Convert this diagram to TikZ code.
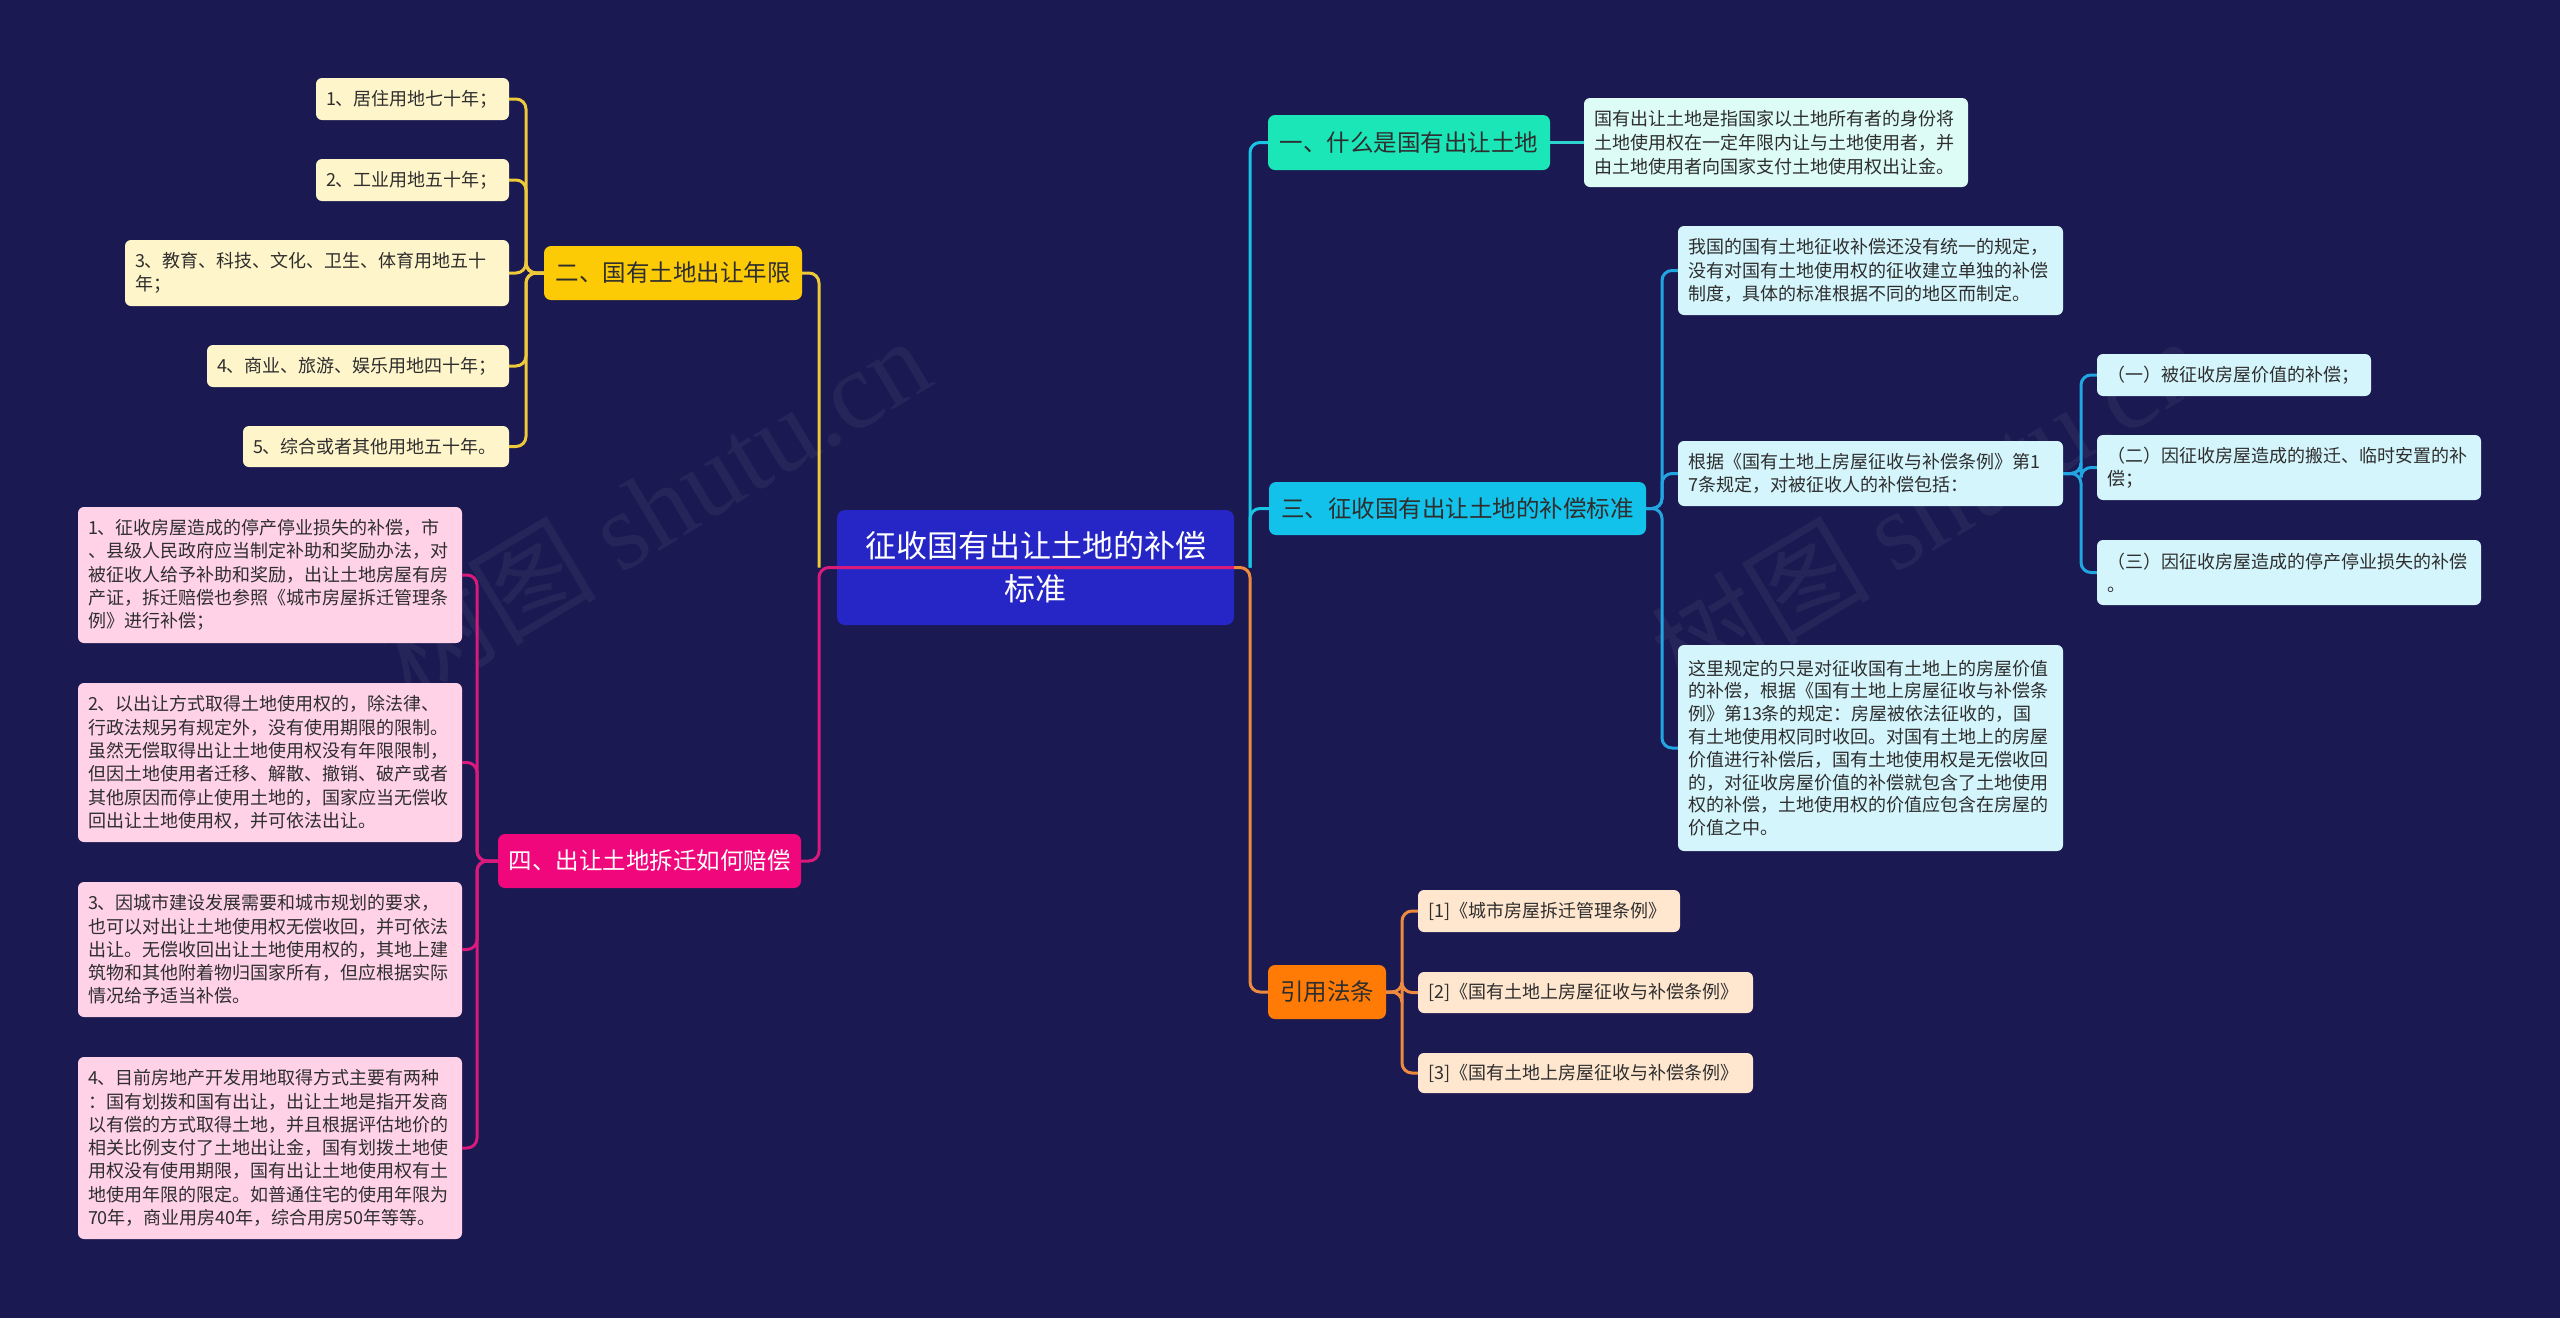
\documentclass[tikz,border=0pt]{standalone}
\usepackage{fontspec}
\setmainfont{Noto Sans CJK SC}
\newfontfamily\wmserif{Liberation Serif}
\definecolor{bg}{HTML}{1A1951}
\definecolor{cmain}{HTML}{2626C6}
\definecolor{cgold}{HTML}{FDCB06}
\definecolor{cyleaf}{HTML}{FFF5CA}
\definecolor{cyline}{HTML}{EEC93A}
\definecolor{cpink}{HTML}{F0077C}
\definecolor{cpleaf}{HTML}{FFD2E8}
\definecolor{cpline}{HTML}{D91A7C}
\definecolor{cteal}{HTML}{1BE6B8}
\definecolor{ctleaf}{HTML}{DDFCF5}
\definecolor{ctline}{HTML}{2ED3D0}
\definecolor{ccyan}{HTML}{12C2EA}
\definecolor{ccleaf}{HTML}{D4F5FC}
\definecolor{ccline}{HTML}{22A6E2}
\definecolor{corange}{HTML}{FF7B06}
\definecolor{coleaf}{HTML}{FFE6CF}
\definecolor{coline}{HTML}{EE8A3E}
\definecolor{ctxt}{HTML}{2E2E2E}
\tikzset{
  leaf/.style={rounded corners=6pt, inner xsep=10pt, inner ysep=0pt, align=left,
    font=\fontsize{18}{23.3}\selectfont, text=ctxt},
  lw/.style={minimum width=#1, text width=#1-20pt},
  branch/.style={rounded corners=7pt, inner xsep=8pt, inner ysep=0pt,
    font=\fontsize{23.5}{28}\selectfont, text=ctxt},
  conn/.style={line width=3pt, rounded corners=10pt},
  wmark/.style={text=white, opacity=0.055, rotate=31, font=\fontsize{110}{120}\selectfont}
}
\begin{document}
\begin{tikzpicture}[x=1pt,y=-1pt]
\fill[bg] (0,0) rectangle (2560,1318);
\useasboundingbox (0,0) rectangle (2560,1318);
% watermarks
\node[wmark] (wm1) at (653,506) {树图 {\wmserif shutu.cn}};
\node[wmark] (wm2) at (1927,506) {树图 {\wmserif shutu.cn}};

% central node
\node[rounded corners=8pt, fill=cmain, text=white, align=center, minimum width=397pt, minimum height=115pt,
  font=\fontsize{31}{43}\selectfont] (center) at (1035.5,567.5) {征收国有出让土地的补偿\\标准};

% left top branch
\node[branch, fill=cgold, minimum width=258pt, minimum height=54pt] (er) at (673,273) {二、国有土地出让年限};
\node[leaf, fill=cyleaf, lw=193pt, minimum height=42pt] (y1) at (412.5,99) {1、居住用地七十年；};
\node[leaf, fill=cyleaf, lw=193pt, minimum height=42pt] (y2) at (412.5,180) {2、工业用地五十年；};
\node[leaf, fill=cyleaf, lw=384pt, minimum height=66pt] (y3) at (317,273) {3、教育、科技、文化、卫生、体育用地五十\\年；};
\node[leaf, fill=cyleaf, lw=302pt, minimum height=42pt] (y4) at (358,366) {4、商业、旅游、娱乐用地四十年；};
\node[leaf, fill=cyleaf, lw=266pt, minimum height=41pt] (y5) at (376,446.5) {5、综合或者其他用地五十年。};

% left bottom branch
\node[branch, fill=cpink, text=white, minimum width=303pt, minimum height=54pt] (si) at (649.5,861) {四、出让土地拆迁如何赔偿};
\node[leaf, fill=cpleaf, lw=384pt, minimum height=136pt] (p1) at (270,575) {1、征收房屋造成的停产停业损失的补偿，市\\、县级人民政府应当制定补助和奖励办法，对\\被征收人给予补助和奖励，出让土地房屋有房\\产证，拆迁赔偿也参照《城市房屋拆迁管理条\\例》进行补偿；};
\node[leaf, fill=cpleaf, lw=384pt, minimum height=159pt] (p2) at (270,762.5) {2、以出让方式取得土地使用权的，除法律、\\行政法规另有规定外，没有使用期限的限制。\\虽然无偿取得出让土地使用权没有年限限制，\\但因土地使用者迁移、解散、撤销、破产或者\\其他原因而停止使用土地的，国家应当无偿收\\回出让土地使用权，并可依法出让。};
\node[leaf, fill=cpleaf, lw=384pt, minimum height=135pt] (p3) at (270,949.5) {3、因城市建设发展需要和城市规划的要求，\\也可以对出让土地使用权无偿收回，并可依法\\出让。无偿收回出让土地使用权的，其地上建\\筑物和其他附着物归国家所有，但应根据实际\\情况给予适当补偿。};
\node[leaf, fill=cpleaf, lw=384pt, minimum height=182pt] (p4) at (270,1148) {4、目前房地产开发用地取得方式主要有两种\\：国有划拨和国有出让，出让土地是指开发商\\以有偿的方式取得土地，并且根据评估地价的\\相关比例支付了土地出让金，国有划拨土地使\\用权没有使用期限，国有出让土地使用权有土\\地使用年限的限定。如普通住宅的使用年限为\\70年，商业用房40年，综合用房50年等等。};

% right branch 1
\node[branch, fill=cteal, minimum width=282pt, minimum height=55pt] (yi) at (1409,142.5) {一、什么是国有出让土地};
\node[leaf, fill=ctleaf, lw=384pt, minimum height=89pt, font=\fontsize{18}{24}\selectfont] (yic) at (1776,142.5) {国有出让土地是指国家以土地所有者的身份将\\土地使用权在一定年限内让与土地使用者，并\\由土地使用者向国家支付土地使用权出让金。};

% right branch 3
\node[branch, fill=ccyan, minimum width=377pt, minimum height=53pt] (san) at (1457.5,508.5) {三、征收国有出让土地的补偿标准};
\node[leaf, fill=ccleaf, lw=385pt, minimum height=89pt] (s1) at (1870.5,270.5) {我国的国有土地征收补偿还没有统一的规定，\\没有对国有土地使用权的征收建立单独的补偿\\制度，具体的标准根据不同的地区而制定。};
\node[leaf, fill=ccleaf, lw=385pt, minimum height=65pt] (s2) at (1870.5,473.5) {根据《国有土地上房屋征收与补偿条例》第1\\7条规定，对被征收人的补偿包括：};
\node[leaf, fill=ccleaf, lw=385pt, minimum height=206pt, font=\fontsize{18}{22.8}\selectfont] (s3) at (1870.5,748) {这里规定的只是对征收国有土地上的房屋价值\\的补偿，根据《国有土地上房屋征收与补偿条\\例》第13条的规定：房屋被依法征收的，国\\有土地使用权同时收回。对国有土地上的房屋\\价值进行补偿后，国有土地使用权是无偿收回\\的，对征收房屋价值的补偿就包含了土地使用\\权的补偿，土地使用权的价值应包含在房屋的\\价值之中。};
\node[leaf, fill=ccleaf, lw=274pt, minimum height=42pt] (s2a) at (2234,375) {（一）被征收房屋价值的补偿；};
\node[leaf, fill=ccleaf, lw=384pt, minimum height=65pt] (s2b) at (2289,467.5) {（二）因征收房屋造成的搬迁、临时安置的补\\偿；};
\node[leaf, fill=ccleaf, lw=384pt, minimum height=65pt] (s2c) at (2289,572.5) {（三）因征收房屋造成的停产停业损失的补偿\\。};

% right branch refs
\node[branch, fill=corange, minimum width=118pt, minimum height=54pt] (yy) at (1327,992) {引用法条};
\node[leaf, fill=coleaf, lw=262pt, minimum height=42pt] (r1) at (1549,911) {[1]《城市房屋拆迁管理条例》};
\node[leaf, fill=coleaf, lw=335pt, minimum height=41pt] (r2) at (1585.5,992.5) {[2]《国有土地上房屋征收与补偿条例》};
\node[leaf, fill=coleaf, lw=335pt, minimum height=40pt] (r3) at (1585.5,1073) {[3]《国有土地上房屋征收与补偿条例》};

% junction coordinates
\coordinate (jL) at (819,567.5);
\coordinate (jR) at (1250,567.5);
\coordinate (bY) at (526,273);
\coordinate (bP) at (477,861);
\coordinate (bS) at (1662,508.5);
\coordinate (bS2) at (2081,473.5);
\coordinate (bO) at (1402,992);

% connectors
\foreach \n in {y1,y2,y3,y4,y5} \draw[conn, cyline] (er.west) -- (bY) |- (\n.east);
\foreach \n in {p1,p2,p3,p4} \draw[conn, cpline] (si.west) -- (bP) |- (\n.east);
\draw[conn, ctline] (yi.east) -- (yic.west);
\foreach \n in {s1,s2,s3} \draw[conn, ccline] (san.east) -- (bS) |- (\n.west);
\foreach \n in {s2a,s2b,s2c} \draw[conn, ccline] (s2.east) -- (bS2) |- (\n.west);
\foreach \n in {r1,r2,r3} \draw[conn, coline] (yy.east) -- (bO) |- (\n.west);

\draw[conn, cyline] (er.east) -| (jL);
\draw[conn, ccyan!80!ctline] (jR) |- (yi.west);
\draw[conn, ccyan!80!ctline] (jR) |- (san.west);
\draw[conn, coline] (center.east) -- (jR) |- (yy.west);
\draw[conn, cpline] (si.east) -| (jL) -- (center.east);
\end{tikzpicture}
\end{document}
